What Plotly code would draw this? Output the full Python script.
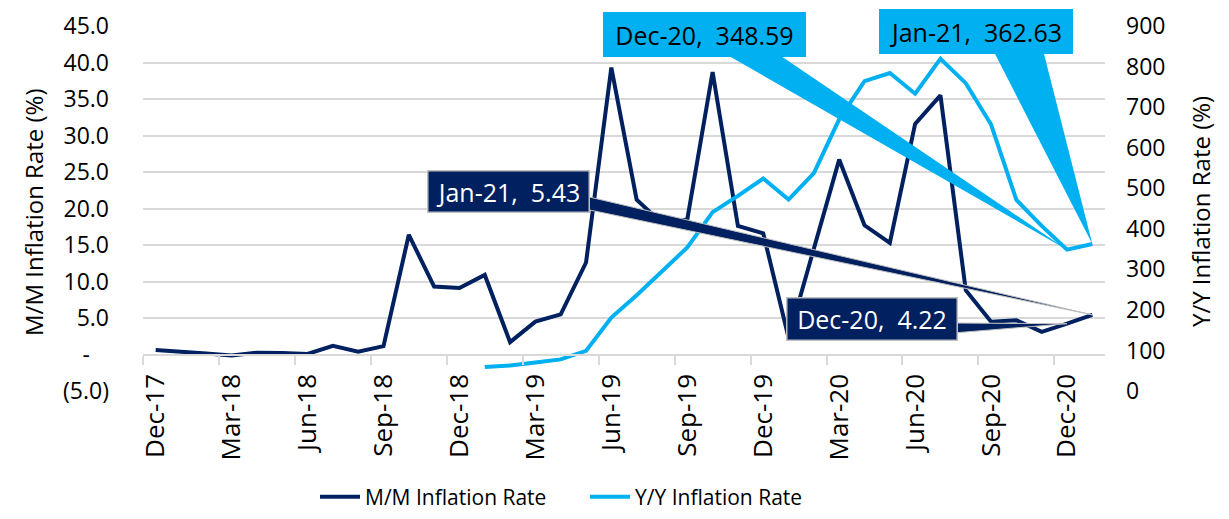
import plotly.graph_objects as go

# ---------------- data ----------------
months = ["Dec-17", "Jan-18", "Feb-18", "Mar-18", "Apr-18", "May-18", "Jun-18", "Jul-18",
          "Aug-18", "Sep-18", "Oct-18", "Nov-18", "Dec-18", "Jan-19", "Feb-19", "Mar-19",
          "Apr-19", "May-19", "Jun-19", "Jul-19", "Aug-19", "Sep-19", "Oct-19", "Nov-19",
          "Dec-19", "Jan-20", "Feb-20", "Mar-20", "Apr-20", "May-20", "Jun-20", "Jul-20",
          "Aug-20", "Sep-20", "Oct-20", "Nov-20", "Dec-20", "Jan-21"]

mm_rate = [0.6, 0.4, 0.15, -0.15, 0.25, 0.2, 0.08, 1.2, 0.4, 1.15,
           16.4, 9.3, 9.1, 10.9, 1.7, 4.5, 5.5, 12.6, 39.3, 21.2,
           18.0, 18.5, 38.7, 17.6, 16.6, 2.3, 14.4, 26.7, 17.7, 15.3,
           31.6, 35.5, 8.8, 4.5, 4.7, 3.1, 4.22, 5.43]

yy_rate = [None] * 13 + [59, 63, 70, 78, 99, 181, 236, 294, 354, 441,
                         481, 524, 472, 537, 670, 764, 784, 733, 819, 759,
                         657, 471, 407, 348.59, 362.63]

left_ticks = [-5, 0, 5, 10, 15, 20, 25, 30, 35, 40, 45]
right_ticks = [0, 100, 200, 300, 400, 500, 600, 700, 800, 900]

# ---------------- style ----------------
NAVY = "#002060"
LBLUE = "#00B0F0"
GRID = "#D9D9D9"
FONT = "Open Sans"
OFF = 8                                   # page body margin
W, H = 1229 - OFF, 519 - OFF
L, R, T, B = 143, 1105, 26, 391          # plot area in reference pixels
XR = [-0.5, len(months) - 0.5]
YR = [-5, 45]
Y2R = [0, 900]

idx = list(range(len(months)))


def px_x(p):
    return XR[0] + (p - L) / (R - L) * (XR[1] - XR[0])


def px_y(p, rng):
    return rng[1] - (p - T) / (B - T) * (rng[1] - rng[0])


def paper_x(p):
    return (p - L) / (R - L)


def paper_y(p):
    return (B - p) / (B - T)


def fmt_left(v):
    hide = "<span style='color:rgba(0,0,0,0)'>%s</span>"
    if v < 0:
        return "(%.1f)" % abs(v)
    if v == 0:
        return "-" + hide % ".0"
    return "%.1f" % v


fig = go.Figure()
fig.add_trace(go.Scatter(x=idx, y=mm_rate, name="M/M Inflation Rate", mode="lines",
                         line=dict(color=NAVY, width=4), yaxis="y"))
fig.add_trace(go.Scatter(x=idx, y=yy_rate, name="Y/Y Inflation Rate", mode="lines",
                         line=dict(color=LBLUE, width=4), yaxis="y2"))

# ---------------- callouts ----------------
shapes = []
annotations = []


def callout(i, series, yref, rng, box, base, bg, fg, border):
    x0, y0, x1, y1 = box
    (bx0, by0), (bx1, by1) = base
    ax, ay = idx[i], series[i]
    path = "M %f,%f L %f,%f L %f,%f Z" % (px_x(bx0), px_y(by0, rng), px_x(bx1), px_y(by1, rng), ax, ay)
    shapes.append(dict(type="path", path=path, xref="x", yref=yref, fillcolor=bg,
                       line=dict(color=border if border else bg, width=1 if border else 0),
                       layer="above"))
    bw = 1.5 if border else 0
    annotations.append(dict(xref="paper", yref="paper", x=paper_x(x0), y=paper_y(y0),
                            xanchor="left", yanchor="top", showarrow=False,
                            text="%s,\u00a0 %.2f" % (months[i], series[i]),
                            font=dict(family=FONT, size=25, color=fg),
                            bgcolor=bg, bordercolor=border if border else bg, borderwidth=bw,
                            borderpad=0, width=(x1 - x0) - 2 * bw, height=(y1 - y0) - 2 * bw,
                            align="center", valign="middle"))


n = len(months)
callout(n - 2, yy_rate, "y2", Y2R, (603, 12, 806, 57), ((722, 52), (775, 52)), LBLUE, "black", None)
callout(n - 1, yy_rate, "y2", Y2R, (879, 9, 1073, 54), ((993, 50), (1043, 50)), LBLUE, "black", None)
callout(n - 1, mm_rate, "y", YR, (427, 170, 590, 213), ((585, 196), (585, 209)), NAVY, "white", "#BFBFBF")
callout(n - 2, mm_rate, "y", YR, (786, 297, 958, 341), ((953, 323), (953, 333)), NAVY, "white", "#BFBFBF")

# axis titles
annotations.append(dict(xref="paper", yref="paper", x=paper_x(33), y=paper_y(212),
                        text="M/M Inflation Rate (%)", textangle=-90, showarrow=False,
                        font=dict(family=FONT, size=24, color="black"),
                        xanchor="center", yanchor="middle"))
annotations.append(dict(xref="paper", yref="paper", x=paper_x(1200), y=paper_y(212),
                        text="Y/Y Inflation Rate (%)", textangle=-90, showarrow=False,
                        font=dict(family=FONT, size=24, color="black"),
                        xanchor="center", yanchor="middle"))

zero_pos = (0 - YR[0]) / (YR[1] - YR[0])

fig.update_layout(
    template="none",
    width=W, height=H,
    margin=dict(l=L - OFF, r=W - (R - OFF), t=T - OFF, b=H - (B - OFF), autoexpand=False),
    paper_bgcolor="white", plot_bgcolor="white",
    font=dict(family=FONT, color="black"),
    showlegend=True,
    legend=dict(orientation="h", x=paper_x(315), y=paper_y(497), xanchor="left", yanchor="middle",
                font=dict(family=FONT, size=21, color="black"), bgcolor="rgba(0,0,0,0)",
                entrywidth=215, itemwidth=40),
    xaxis=dict(range=XR, tickvals=idx[::3], ticktext=months[::3], tickangle=-90,
               anchor="free", position=zero_pos, showline=True, linecolor=GRID, linewidth=2,
               ticks="outside", ticklen=8, tickcolor="rgba(0,0,0,0)",
               minor=dict(tickvals=[i - 0.5 for i in idx[::3]], ticks="outside", ticklen=9,
                          tickcolor=GRID, tickwidth=2, showgrid=False),
               showgrid=False, zeroline=False, automargin=False, ticklabeloverflow="allow",
               tickfont=dict(family=FONT, size=26, color="black")),
    yaxis=dict(range=YR, tickvals=left_ticks, ticktext=[fmt_left(v) for v in left_ticks],
               showgrid=True, gridcolor=GRID, gridwidth=2, zeroline=False, showline=False,
               ticks="", ticklabelstandoff=33, automargin=False, ticklabeloverflow="allow",
               tickfont=dict(family=FONT, size=23, color="black")),
    yaxis2=dict(range=Y2R, overlaying="y", side="right", tickvals=right_ticks,
                ticktext=[str(v) for v in right_ticks], showgrid=False, zeroline=False,
                showline=False, ticks="", ticklabelstandoff=20, automargin=False,
                ticklabeloverflow="allow",
                tickfont=dict(family=FONT, size=23, color="black")),
    shapes=shapes,
    annotations=annotations,
)

fig.write_html("out.html")
